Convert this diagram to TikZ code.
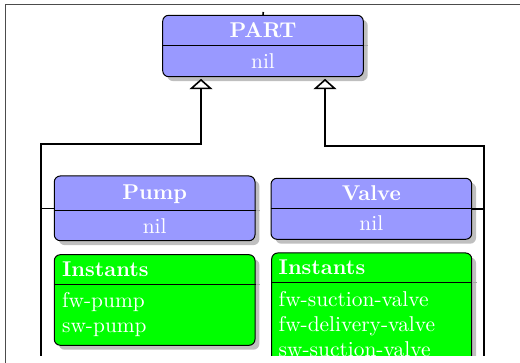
\documentclass[tikz,border=0pt]{standalone}
\usetikzlibrary{arrows.meta,shadows}
\begin{document}
\begin{tikzpicture}[x=0.5pt,y=-0.5pt,
  fnt/.style={font=\fontsize{10.7}{12.5}\selectfont},
  box/.style={draw=black,line width=0.5pt,rounded corners=3pt,inner sep=0pt,
    drop shadow={shadow xshift=2.2pt,shadow yshift=-2.2pt,fill=black!25,opacity=1}},
  classbox/.style={box,fill=blue!40},
  instbox/.style={box,fill=green},
  ttl/.style={fnt,text=white,inner sep=0pt,anchor=base,font=\fontsize{10.7}{12.5}\selectfont\bfseries},
  txt/.style={fnt,text=white,inner sep=0pt,anchor=base},
  lst/.style={fnt,text=white,inner sep=0pt,anchor=base west},
  sep/.style={line width=0.5pt},
  sepsh/.style={line width=0.5pt,black!35},
  conn/.style={line width=0.8pt},
  gen/.style={conn,-{Triangle[open,length=5.2pt,width=11.5pt]},shorten >=0.8pt},
  frame/.style={line width=0.6pt,black!70}]
\useasboundingbox (0,0) rectangle (520,363);
\begin{scope}
\clip (0,0) rectangle (520,355.7);
% boxes
\node[classbox,minimum width=100.3pt,minimum height=30.7pt] (part) at (263,46) {};
\node[classbox,minimum width=100.35pt,minimum height=32.35pt] (pump) at (154.65,208.35) {};
\node[classbox,minimum width=100.35pt,minimum height=30.5pt] (valve) at (371.35,208.8) {};
\node[instbox,minimum width=100.35pt,minimum height=45.3pt] (pinst) at (154.65,300) {};
\node[instbox,minimum width=100pt,minimum height=93.5pt] (vinst) at (371.7,346.5) {};
% separators
\coordinate (sp) at (0,46);
\coordinate (su) at (0,210.7);
\coordinate (sv) at (0,208.7);
\coordinate (spi) at (0,285);
\coordinate (svi) at (0,283);
\draw[sepsh] (part.east |- sp) -- ++(4.4,0);
\draw[sepsh] (pump.east |- su) -- ++(4.4,0);
\draw[sepsh] (pinst.east |- spi) -- ++(4.4,0);
\draw[sepsh] (vinst.east |- svi) -- ++(4.4,0);
\draw[sep] (part.west |- sp) -- (part.east |- sp);
\draw[sep] (pump.west |- su) -- (pump.east |- su);
\draw[sep] (valve.west |- sv) -- (valve.east |- sv);
\draw[sep] (pinst.west |- spi) -- (pinst.east |- spi);
\draw[sep] (vinst.west |- svi) -- (vinst.east |- svi);
% texts
\node[ttl] (tpart) at (263,37.7) {PART};
\node[txt] (npart) at (263,69) {nil};
\node[ttl] (tpump) at (154.65,200) {Pump};
\node[txt] (npump) at (154.65,233.3) {nil};
\node[ttl] (tvalve) at (371.35,201) {Valve};
\node[txt] (nvalve) at (371.35,231) {nil};
\node[ttl,anchor=base west] (tpi) at (61.7,276.3) {Instants};
\node[lst] (p1) at (61.7,307.3) {fw-pump};
\node[lst] (p2) at (61.7,332.3) {sw-pump};
\node[ttl,anchor=base west] (tvi) at (278.3,274.7) {Instants};
\node[lst] (v1) at (278.3,306.3) {fw-suction-valve};
\node[lst] (v2) at (278.3,331.3) {fw-delivery-valve};
\node[lst] (v3) at (278.3,357) {sw-suction-valve};
% connectors
\coordinate (ptop) at (263.3,12);
\draw[conn] (part.north) -- (ptop);
\coordinate (lbot) at (41,365);
\coordinate (lk) at (201,144.3);
\draw[gen] (lbot) |- (lk) -- (lk |- part.south);
\draw[conn] (pump.west) -- (pump.west -| lbot);
\coordinate (rbot) at (484,365);
\coordinate (rk) at (325,146);
\draw[gen] (rbot) |- (rk) -- (rk |- part.south);
\draw[conn] (valve.east) -- (valve.east -| rbot);
\end{scope}
% frame
\coordinate (f0) at (5.3,363);
\coordinate (f1) at (5.3,4.7);
\coordinate (f2) at (520,4.7);
\draw[frame] (f0) -- (f1) -- (f2);
\end{tikzpicture}
\end{document}
